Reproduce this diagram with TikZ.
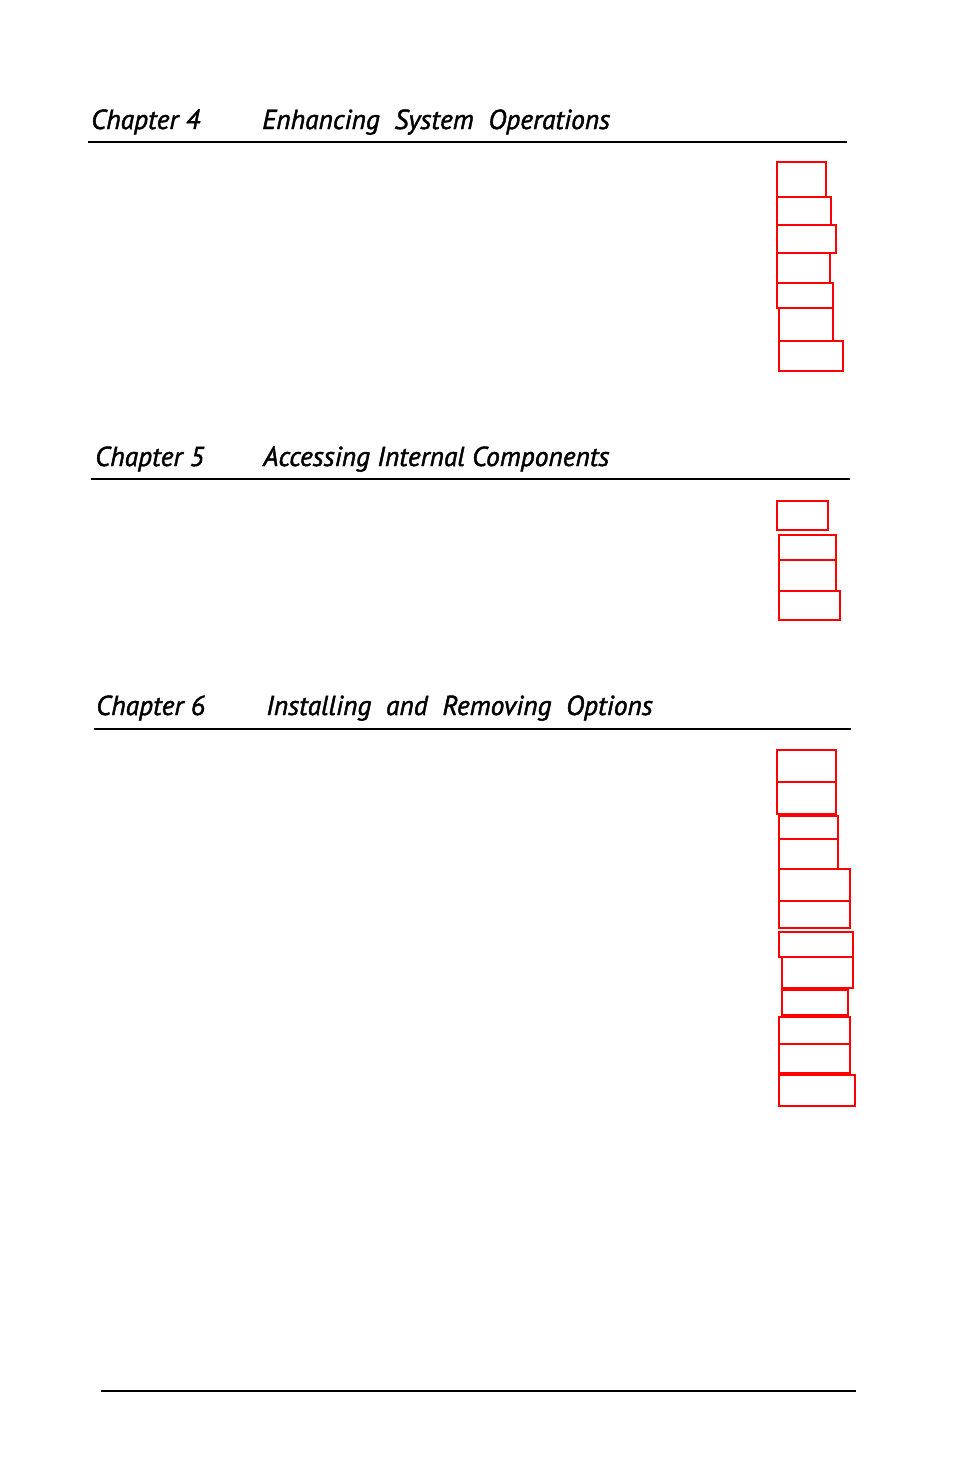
\documentclass[tikz,border=0pt]{standalone}
\usepackage{fontspec}
\setmainfont{PT Sans}[ItalicFeatures={FakeBold=1.6}]
\begin{document}
\begin{tikzpicture}[x=1pt,y=-1pt,
  hd/.style={anchor=base west,inner sep=0pt,font=\fontsize{27.5}{30}\selectfont\itshape},
  rule/.style={line width=1.3pt},
  rb/.style={draw=red,line width=1.6pt}]
\useasboundingbox[fill=white] (0,0) rectangle (954,1473);
\node[hd] (c4) at (91,129) {Chapter 4};
\node[hd] (t4) at (262,129) {Enhancing\ \ System\ \ Operations};
\draw[rule] (88,142) -- (847,142);
\node[hd] (c5) at (95,466) {Chapter 5};
\node[hd] (t5) at (263,466) {Accessing Internal Components};
\draw[rule] (91,479) -- (850,479);
\node[hd] (c6) at (96,715) {Chapter 6};
\node[hd] (t6) at (266,715) {Installing\ \ and\ \ Removing\ \ Options};
\draw[rule] (94,729) -- (851,729);
\draw[line width=2pt] (101,1391) -- (856,1391);
\foreach \a/\b/\c/\d in {777/162/826/197,777/197/831/225,777/225/836/253,777/253/830/283,777/283/833/308,779/308/833/341,779/341/843/371,
 777/501/828/530,779/535/836/560,779/560/836/591,779/591/840/620,
 777/750/836/782,777/782/836/814,779/816/838/839,779/839/838/869,779/869/850/901,779/901/850/928,779/932/853/957,782/957/853/988,782/990/848/1015,779/1017/850/1044,779/1044/850/1073,779/1075/855/1106}
  \draw[rb] (\a,\b) rectangle (\c,\d);
\end{tikzpicture}
\end{document}
